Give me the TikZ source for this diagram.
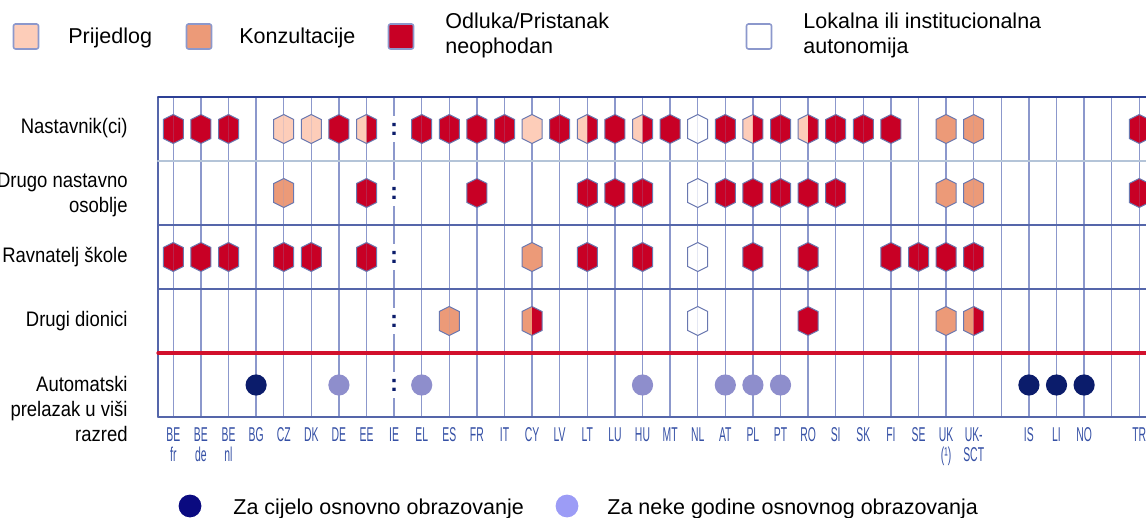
\documentclass[tikz,border=0pt]{standalone}
\usepackage{fontspec}
\setmainfont{Liberation Sans}
\newfontfamily\rowfont[FakeStretch=0.88]{Liberation Sans}
\newfontfamily\cntfont[FakeStretch=0.52]{Liberation Sans}
\usetikzlibrary{positioning}
\definecolor{cP}{HTML}{FDCDB9}
\definecolor{cK}{HTML}{EC9A78}
\definecolor{cD}{HTML}{C80025}
\definecolor{cA}{HTML}{FFFFFF}
\definecolor{gridblue}{HTML}{8C98CC}
\definecolor{frameblue}{HTML}{5566AA}
\definecolor{topblue}{HTML}{2D4095}
\definecolor{paleblue}{HTML}{B4C4D8}
\definecolor{redrule}{HTML}{D2102C}
\definecolor{hexline}{HTML}{6A78B0}
\definecolor{navy}{HTML}{0B1C6B}
\definecolor{lilac}{HTML}{8E8ECC}
\definecolor{cntblue}{HTML}{3550A5}
\definecolor{legnavy}{HTML}{0A0A80}
\definecolor{leglilac}{HTML}{9C9CF6}
\tikzset{
	legbox/.style={draw=gridblue, line width=0.8pt, rounded corners=1pt, minimum size=12.5pt, inner sep=0pt},
	legtext/.style={inner sep=0pt, align=left, font=\fontsize{10.75}{12.5}\selectfont},
	rowlab/.style={anchor=base east, inner sep=0pt, align=right, font=\rowfont\fontsize{10.5}{12.5}\selectfont},
	cntlab/.style={anchor=north, inner sep=0pt, align=center, text=cntblue, font=\cntfont\fontsize{10}{10}\selectfont},
	missing/.style={text=navy, fill=white, inner xsep=0.6pt, minimum height=10pt, font=\bfseries\fontsize{12}{12}\selectfont},
	colline/.style={draw=gridblue, line width=0.7pt},
	rowline/.style={draw=frameblue, line width=0.7pt},
	hexedge/.style={draw=hexline, line width=0.5pt, line join=miter},
}
% one cell: centre x, centre y, left colour, right colour
\newcommand{\hexcell}[4]{%
	\fill[#3, shift={(#1,#2)}] (0,-14.5) -- (-10,-9.5) -- (-10,9.5) -- (0,14.5) -- cycle;
	\fill[#4, shift={(#1,#2)}] (0,-14.5) -- (10,-9.5) -- (10,9.5) -- (0,14.5) -- cycle;
	\draw[hexedge, shift={(#1,#2)}] (0,-14.5) -- (10,-9.5) -- (10,9.5) -- (0,14.5) -- (-10,9.5) -- (-10,-9.5) -- cycle;
}
\begin{document}
\begin{tikzpicture}[x=0.5pt, y=-0.5pt, line join=round, line cap=round]
	\useasboundingbox (0,0) rectangle (1146,518);
	\clip (0,0) rectangle (1146,518);
	\def\xo{173.3} \def\dx{27.6} % first column, step
	\def\xl{158} \def\xr{1160}
	\def\yt{97} \def\yb{417}
	% legend
	\node[legbox, fill=cP] (lp) at (26,36.5) {};
	\node[legtext, anchor=base west] (tp) at (68,44) {Prijedlog};
	\node[legbox, fill=cK] (lk) at (199,36.5) {};
	\node[legtext, anchor=base west] (tk) at (239,44) {Konzultacije};
	\node[legbox, fill=cD] (ld) at (401,36.5) {};
	\node[legtext, anchor=north west] (td) at (445,13) {Odluka/Pristanak\\neophodan};
	\node[legbox, fill=cA] (la) at (759,36.5) {};
	\node[legtext, anchor=north west] (ta) at (803,13) {Lokalna ili institucionalna\\autonomija};
	% grid
	\foreach \c in {0,...,35}
		\draw[colline] (\xo+\dx*\c,\yt) -- (\xo+\dx*\c,\yb);
	\draw[rowline] (\xl,\yb) -- (\xl,\yt);
	\draw[draw=paleblue, line width=1.2pt] (\xl,161) -- (\xr,161);
	\draw[rowline] (\xl,225) -- (\xr,225) (\xl,289) -- (\xr,289) (\xl,\yb) -- (\xr,\yb);
	\draw[draw=topblue, line width=0.9pt] (\xl,\yt) -- (\xr,\yt);
	\draw[draw=redrule, line width=1.6pt] (\xl,353) -- (\xr,353);
	% rows of cells
	\foreach \y/\cells in {
		129/{0/cD/cD,1/cD/cD,2/cD/cD,4/cP/cP,5/cP/cP,6/cD/cD,7/cP/cD,9/cD/cD,10/cD/cD,11/cD/cD,12/cD/cD,13/cP/cP,14/cD/cD,15/cP/cD,16/cD/cD,17/cP/cD,18/cD/cD,19/cA/cA,20/cD/cD,21/cP/cD,22/cD/cD,23/cP/cD,24/cD/cD,25/cD/cD,26/cD/cD,28/cK/cK,29/cK/cK,35/cD/cD},
		193/{4/cK/cK,7/cD/cD,11/cD/cD,15/cD/cD,16/cD/cD,17/cD/cD,19/cA/cA,20/cD/cD,21/cD/cD,22/cD/cD,23/cD/cD,24/cD/cD,28/cK/cK,29/cK/cK,35/cD/cD},
		257/{0/cD/cD,1/cD/cD,2/cD/cD,4/cD/cD,5/cD/cD,7/cD/cD,13/cK/cK,15/cD/cD,17/cD/cD,19/cA/cA,21/cD/cD,23/cD/cD,26/cD/cD,27/cD/cD,28/cD/cD,29/cD/cD},
		321/{10/cK/cK,13/cK/cD,19/cA/cA,23/cD/cD,28/cK/cK,29/cK/cD}}
		\foreach \c/\l/\r in \cells
			\hexcell{\xo+\dx*\c}{\y}{\l}{\r};
	\foreach \c/\col in {3/navy,6/lilac,9/lilac,17/lilac,20/lilac,21/lilac,22/lilac,31/navy,32/navy,33/navy}
		\fill[\col] (\xo+\dx*\c,385) circle (5.3pt);
	% IE: no data
	\foreach \y in {129,193,257,321,385}
		\node[missing] (ie\y) at (\xo+\dx*8,\y) {:};
	% row labels
	\node[rowlab] (r1) at (128,134) {Nastavnik(ci)};
	\node[rowlab, anchor=north east] (r2) at (128,173) {Drugo nastavno\\osoblje};
	\node[rowlab] (r3) at (128,263) {Ravnatelj škole};
	\node[rowlab] (r4) at (128,327) {Drugi dionici};
	\node[rowlab, anchor=north east] (r5) at (128,376) {Automatski\\prelazak u viši\\razred};
	% countries
	\foreach \c/\t in {0/{BE\\fr},1/{BE\\de},2/{BE\\nl},3/BG,4/CZ,5/DK,6/DE,7/EE,8/IE,9/EL,10/ES,11/FR,12/IT,13/CY,14/LV,15/LT,16/LU,17/HU,18/MT,19/NL,20/AT,21/PL,22/PT,23/RO,24/SI,25/SK,26/FI,27/SE,28/{UK\\(¹)},29/{UK-\\SCT},31/IS,32/LI,33/NO,35/TR}
		\node[cntlab] (c\c) at (\xo+\dx*\c,427) {\t};
	% bottom legend
	\fill[legnavy] (190,506) circle (5.7pt) coordinate (dn);
	\node[legtext, anchor=base west] (tn) at (233,514) {Za cijelo osnovno obrazovanje};
	\fill[leglilac] (567,506) circle (5.7pt) coordinate (dl);
	\node[legtext, anchor=base west] (tl) at (607,514) {Za neke godine osnovnog obrazovanja};
\end{tikzpicture}
\end{document}
